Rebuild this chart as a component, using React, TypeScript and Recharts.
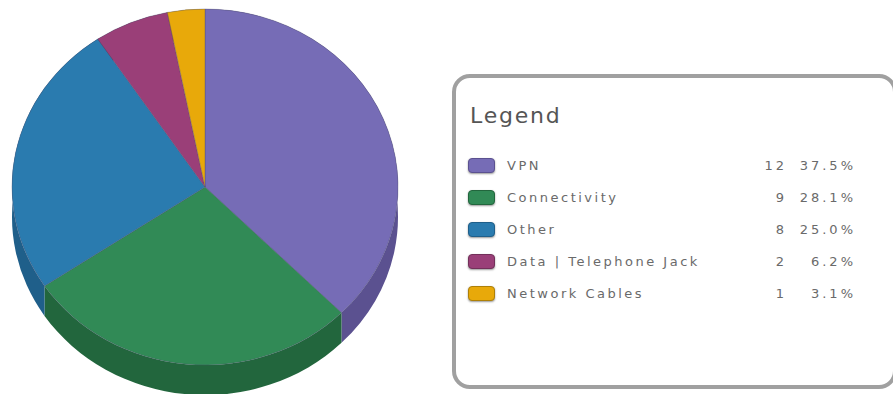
import * as React from "react"
import { Legend, Pie, PieChart } from "recharts"

const categories = ["VPN", "Connectivity", "Other", "Data | Telephone Jack", "Network Cables"]
const counts = [12, 9, 8, 2, 1]
const percentLabels = ["37.5%", "28.1%", "25.0%", "6.2%", "3.1%"]
const topColors = ["#766cb6", "#318a56", "#2a7baf", "#9a3f78", "#e8a90a"]
const sideColors = ["#5b5190", "#22663d", "#1f5f8a", "#73305a", "#ae8008"]

const RX = 193
const RY = 178
const DEPTH = 30

const topData = categories.map((name, i) => ({ name, value: counts[i], fill: topColors[i] }))
const sideData = categories.map((name, i) => ({ name, value: counts[i], fill: sideColors[i] }))

// point on the flattened rim, angle in recharts degrees
const rim = (cx: number, cy: number, deg: number) => {
  const a = (deg * Math.PI) / 180
  return [cx + RX * Math.cos(a), cy - RY * Math.sin(a)]
}

function TopSlice(props: any) {
  const { cx, cy, startAngle, endAngle, fill } = props
  const [x0, y0] = rim(cx, cy, startAngle)
  const [x1, y1] = rim(cx, cy, endAngle)
  const large = Math.abs(endAngle - startAngle) > 180 ? 1 : 0
  const d = `M${cx},${cy} L${x0},${y0} A${RX},${RY} 0 ${large} 1 ${x1},${y1} Z`
  return <path d={d} fill={fill} stroke="#4a4a6a" strokeOpacity={0.35} strokeWidth={1} />
}

// the outer wall of a slice, the top face is painted over the hidden part
function SideSlice(props: any) {
  const { cx, cy, startAngle, endAngle, fill } = props
  const [x0, y0] = rim(cx, cy, startAngle)
  const [x1, y1] = rim(cx, cy, endAngle)
  const large = Math.abs(endAngle - startAngle) > 180 ? 1 : 0
  const d =
    `M${x0},${y0} A${RX},${RY} 0 ${large} 1 ${x1},${y1} ` +
    `L${x1},${y1 + DEPTH} A${RX},${RY} 0 ${large} 0 ${x0},${y0 + DEPTH} Z`
  return <path d={d} fill={fill} />
}

function LegendBox() {
  return (
    <div
      style={{
        boxSizing: "border-box",
        width: 445,
        height: 315,
        border: "4px solid #a0a0a0",
        borderRadius: 18,
        background: "#fff",
        position: "relative",
        fontFamily: "'DejaVu Sans', sans-serif",
        color: "#6a6a6a",
      }}
    >
      <div
        style={{
          position: "absolute",
          left: 14,
          top: 24,
          fontSize: 22,
          color: "#555",
          lineHeight: "28px",
          letterSpacing: 1.8,
        }}
      >
        Legend
      </div>
      {categories.map((name, i) => (
        <div
          key={name}
          style={{ position: "absolute", left: 0, top: 78 + i * 32, width: 441, height: 20, fontSize: 13, lineHeight: "20px", letterSpacing: 2.5 }}
        >
          <span
            style={{
              position: "absolute",
              left: 12,
              top: 2,
              width: 27,
              height: 15,
              boxSizing: "border-box",
              borderRadius: 4,
              background: topColors[i],
              border: `1px solid ${sideColors[i]}`,
              boxShadow: "0 1px 2px #999",
            }}
          />
          <span style={{ position: "absolute", left: 51, whiteSpace: "nowrap" }}>{name}</span>
          <span style={{ position: "absolute", right: 110, whiteSpace: "nowrap", letterSpacing: 3 }}>{counts[i]}</span>
          <span style={{ position: "absolute", right: 41, whiteSpace: "nowrap", letterSpacing: 3 }}>{percentLabels[i]}</span>
        </div>
      ))}
    </div>
  )
}

export default function App() {
  return (
    <div style={{ position: "absolute", left: 0, top: 0, width: 893, height: 394, overflow: "hidden", background: "#fff" }}>
      <PieChart width={893} height={394} margin={{ top: 0, right: 0, bottom: 0, left: 0 }}>
        <Pie
          data={sideData}
          dataKey="value"
          nameKey="name"
          cx={205}
          cy={187}
          outerRadius={RX}
          startAngle={90}
          endAngle={-270}
          stroke="none"
          legendType="none"
          shape={SideSlice}
          isAnimationActive={false}
        />
        <Pie
          data={topData}
          dataKey="value"
          nameKey="name"
          cx={205}
          cy={187}
          outerRadius={RX}
          startAngle={90}
          endAngle={-270}
          shape={TopSlice}
          isAnimationActive={false}
        />
        <Legend
          content={<LegendBox />}
          wrapperStyle={{ position: "absolute", left: 452, top: 74, width: 445, height: 315, bottom: "auto", right: "auto" }}
        />
      </PieChart>
    </div>
  )
}
